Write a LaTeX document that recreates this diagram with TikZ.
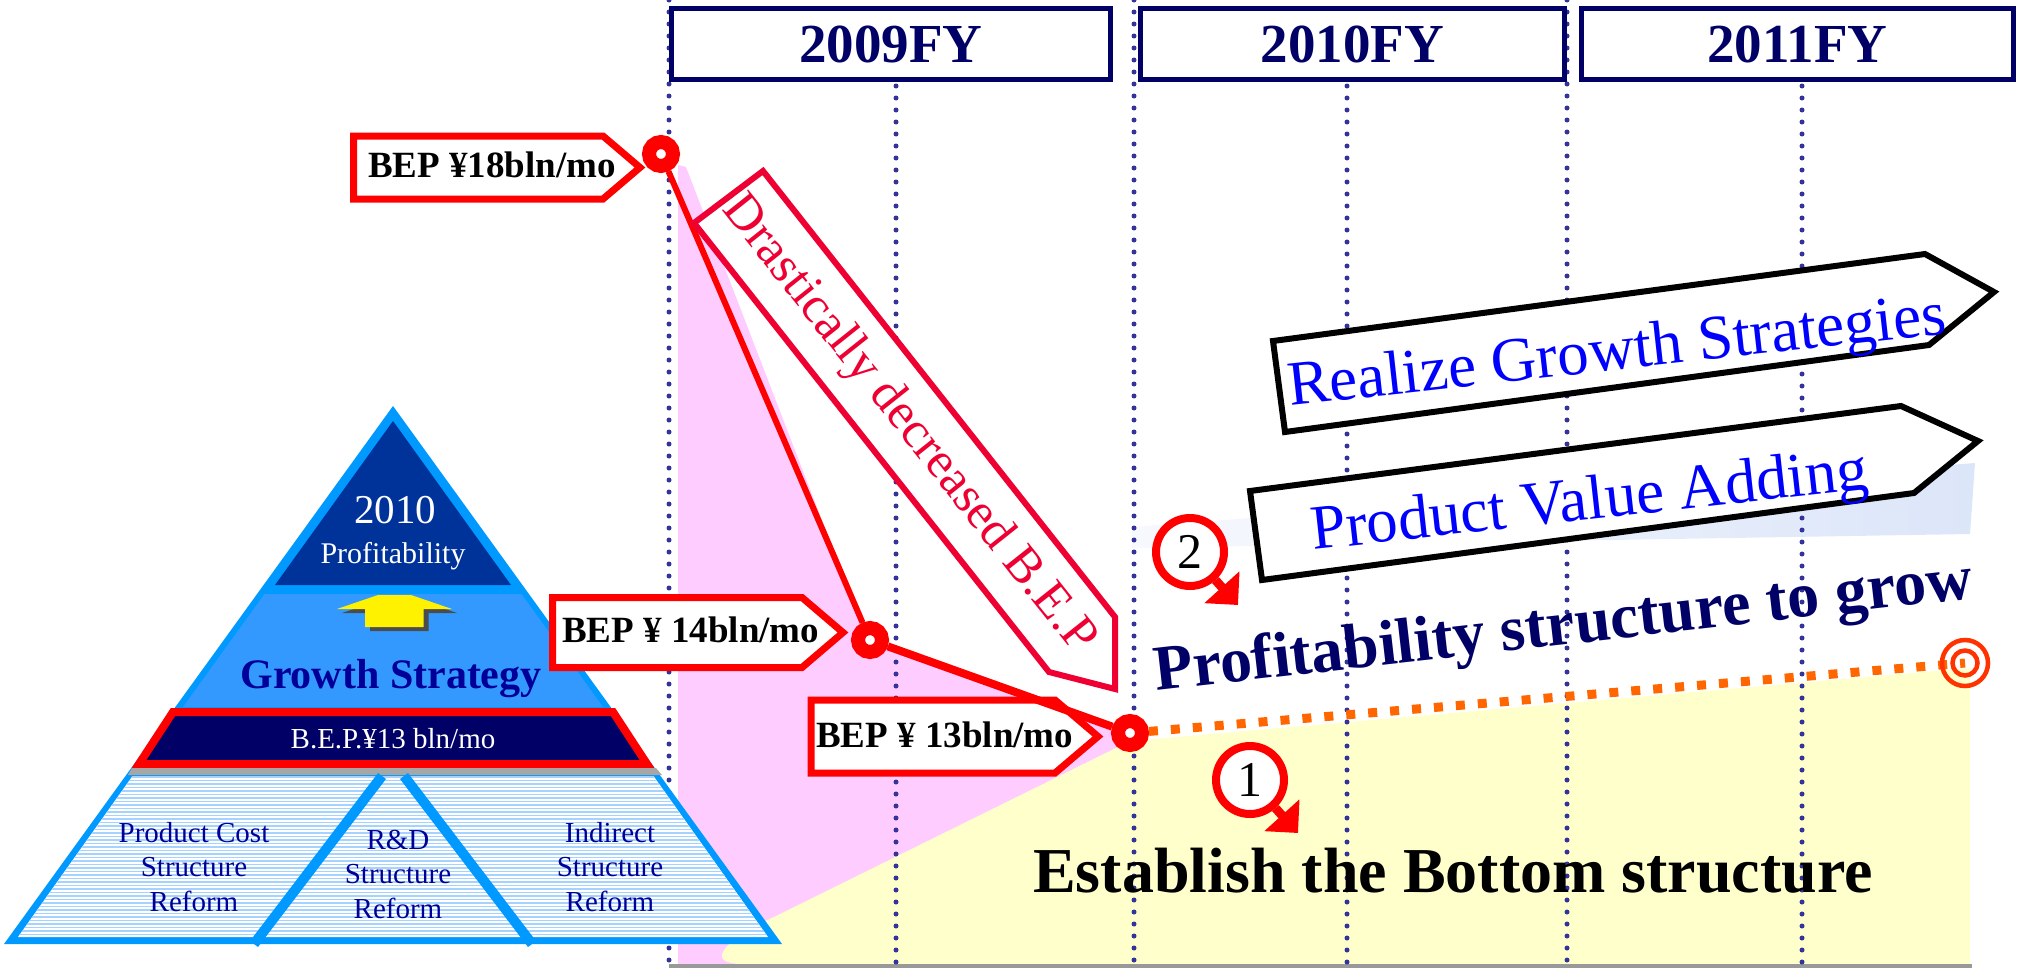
\documentclass[tikz,border=0pt]{standalone}
\usepackage{fontspec}
\setmainfont{Liberation Serif}
\usetikzlibrary{arrows.meta}

\definecolor{navyblue}{HTML}{000066}
\definecolor{dotblue}{HTML}{333399}
\definecolor{bandpink}{HTML}{FFCCFF}
\definecolor{bandyellow}{HTML}{FFFFCC}
\definecolor{bandblue}{HTML}{DCE6F9}
\definecolor{pyrlight}{HTML}{0099FF}
\definecolor{pyrmid}{HTML}{3399FF}
\definecolor{pyrtop}{HTML}{003399}
\definecolor{pyrtext}{HTML}{000099}
\definecolor{stripe}{HTML}{A6D2FF}
\definecolor{decred}{HTML}{EE0033}
\definecolor{trendorange}{HTML}{FF6600}
\definecolor{targetred}{HTML}{FF3300}

\newcommand{\fsize}[2]{\fontsize{#1}{#2}\selectfont}

\tikzset{
  yearbox/.style={draw=navyblue, line width=5pt, fill=white, text=navyblue, font=\fsize{55}{60}\bfseries},
  dotline/.style={dotblue, line width=5pt, line cap=round, dash pattern=on 0pt off 12pt},
  bepsign/.style={draw=red, line width=7pt, fill=white},
  beptext/.style={inner sep=0pt, anchor=base west, font=\fsize{37}{40}\bfseries},
  bepdot/.style={circle, draw=red, line width=14pt, fill=white, inner sep=0pt, minimum size=24pt},
  pyrlabel/.style={inner sep=0pt, anchor=base},
  pyrblock/.style={inner sep=0pt, align=center, text=pyrtext, font=\fsize{29}{34.5}},
  strategysign/.style={draw=black, line width=6pt, fill=white},
  strategytext/.style={inner sep=0pt, anchor=base west, rotate=6.3, text=blue, font=\fsize{63}{66}},
  badge/.style={circle, draw=red, line width=8pt, fill=white, inner sep=0pt, minimum size=68pt, font=\fsize{50}{50}},
  badgearrow/.style={red, line width=9pt, -{Triangle[width=46pt, length=24pt]}},
  trend/.style={trendorange, line width=9pt, dash pattern=on 9pt off 13pt},
  targetring/.style={circle, draw=targetred, line width=4.5pt, inner sep=0pt}
}

\begin{document}
\begin{tikzpicture}[x=1pt, y=-1pt]
  \useasboundingbox (0,0) rectangle (2018,969);

  % shaded areas behind the chart
  \fill[bandpink] (678,165) -- (686,167) -- (868,640) -- (1130,735) -- (1130,964) -- (678,964) -- cycle;
  \fill[bandyellow] (1130,741) -- (1970,668) -- (1970,964) -- (742,964)
    .. controls (708,964) and (716,944) .. (776,916) -- cycle;
  \shade[left color=bandblue!25, right color=bandblue] (1132,527) -- (1975,463) -- (1970,534) -- (1132,548) -- cycle;
  \draw[gray!80, line width=3.5pt] (669,966) -- (1972,966);

  % time grid
  \foreach \x in {669,1134,1567}
    \draw[dotline] (\x,0) -- (\x,962);
  \foreach \x in {896,1347,1802}
    \draw[dotline] (\x,86) -- (\x,962);

  \node[yearbox, minimum width=439pt, minimum height=71pt] (fy2009) at (891,44) {2009FY};
  \node[yearbox, minimum width=424pt, minimum height=71pt] (fy2010) at (1352.5,44) {2010FY};
  \node[yearbox, minimum width=432pt, minimum height=71pt] (fy2011) at (1797.5,44) {2011FY};

  % pyramid
  \fill[pyrlight] (393,406) -- (782,944) -- (4,944) -- cycle;
  \fill[pyrtop] (393,421) -- (511,585) -- (275,585) -- cycle;
  \fill[pyrmid] (264.5,594) -- (521.5,594) -- (603,707) -- (183,707) -- cycle;
  \filldraw[draw=red, fill=navyblue, line width=8pt] (173,712) -- (613,712) -- (647,764) -- (139,764) -- cycle;
  \fill[gray!70] (132,768) -- (656,768) -- (662,775) -- (128,775) -- cycle;
  \fill[white] (132.5,776) -- (653.5,776) -- (768,937) -- (18,937) -- cycle;
  \begin{scope}
    \clip (132.5,776) -- (653.5,776) -- (768,937) -- (18,937) -- cycle;
    \foreach \y in {777,780.5,...,937}
      \draw[stripe, line width=1.8pt] (0,\y) -- (800,\y);
  \end{scope}
  \draw[pyrlight, line width=10pt] (254,944) -- (382,776);
  \draw[pyrlight, line width=10pt] (404,776) -- (532,944);
  \fill[gray!60!black] (342,613) -- (383,599) -- (416,599) -- (457,613) -- (428.5,613) -- (428.5,631) -- (370,631) -- (370,613) -- cycle;
  \fill[yellow] (337,609) -- (378,595) -- (411,595) -- (452,609) -- (423.5,609) -- (423.5,627) -- (365,627) -- (365,609) -- cycle;

  \node[pyrlabel, text=white, font=\fsize{41}{41}] (pyr2010) at (395,523) {2010};
  \node[pyrlabel, text=white, font=\fsize{30}{30}] (pyrprofit) at (393,563) {Profitability};
  \node[pyrlabel, text=pyrtext, font=\fsize{42}{42}\bfseries] (pyrgrowth) at (391,688) {Growth Strategy};
  \node[pyrlabel, text=white, font=\fsize{29}{29}] (pyrbep) at (393,748) {B.E.P.¥13 bln/mo};
  \node[pyrblock] (pyrcost) at (194,867) {Product Cost\\Structure\\Reform};
  \node[pyrblock] (pyrrnd) at (398,874) {R\&D\\Structure\\Reform};
  \node[pyrblock] (pyrindirect) at (610,867) {Indirect\\Structure\\Reform};

  % break-even labels
  \filldraw[bepsign] (353.5,136) -- (603,136) -- (640,167.5) -- (603,199) -- (353.5,199) -- cycle;
  \filldraw[bepsign] (552.5,597.5) -- (802,597.5) -- (843,632.5) -- (802,667.5) -- (552.5,667.5) -- cycle;
  \filldraw[bepsign] (811,700) -- (1055,700) -- (1098,736.5) -- (1055,773) -- (811,773) -- cycle;
  \node[beptext] (bep18label) at (368,177) {BEP ¥18bln/mo};
  \node[beptext] (bep14label) at (562,642) {BEP ¥ 14bln/mo};
  \node[beptext] (bep13label) at (816,747) {BEP ¥ 13bln/mo};

  \node[bepdot] (bep18) at (661,154) {};
  \node[bepdot] (bep14) at (870,640) {};
  \node[bepdot] (bep13) at (1130,733) {};
  \draw[red, line width=6pt] (bep18) -- (bep14);
  \draw[red, line width=8pt] (bep14) -- (bep13);

  \filldraw[draw=decred, fill=white, line width=6pt] (763,171) -- (1115,617) -- (1115,689) -- (1049,672) -- (694,223) -- cycle;
  \node[inner sep=0pt, rotate=-51.5, text=decred, font=\fsize{51}{51}] (decrease) at (908,425) {Drastically decreased B.E.P};

  % trend to the goal
  \coordinate (goal) at (1965,663);
  \draw[trend] (bep13) -- (goal);
  \node[targetring, minimum size=46pt] (goalouter) at (goal) {};
  \node[targetring, minimum size=25pt] (goalinner) at (goal) {};

  % strategy signs
  \filldraw[strategysign] (1273,341) -- (1925,254) -- (1994,292) -- (1929,345) -- (1285,432) -- cycle;
  \filldraw[strategysign] (1250,491) -- (1901,406) -- (1978,441) -- (1914,493) -- (1262,580) -- cycle;
  \node[strategytext] (realize) at (1290,406) {Realize Growth Strategies};
  \node[strategytext] (valueadd) at (1313,550) {Product Value Adding};

  \node[inner sep=0pt, anchor=base west, rotate=6.5, text=navyblue, font=\fsize{64}{64}\bfseries] (growtext) at (1156,691) {Profitability structure to grow};
  \node[inner sep=0pt, anchor=base west, font=\fsize{64}{64}\bfseries] (bottomtext) at (1033,892) {Establish the Bottom structure};

  % step markers
  \node[badge] (badge2) at (1190,552) {2};
  \node[badge] (badge1) at (1250,780) {1};
  \coordinate (tip2) at (1238,605);
  \coordinate (tip1) at (1298,833);
  \draw[badgearrow] (badge2) -- (tip2);
  \draw[badgearrow] (badge1) -- (tip1);
\end{tikzpicture}
\end{document}
